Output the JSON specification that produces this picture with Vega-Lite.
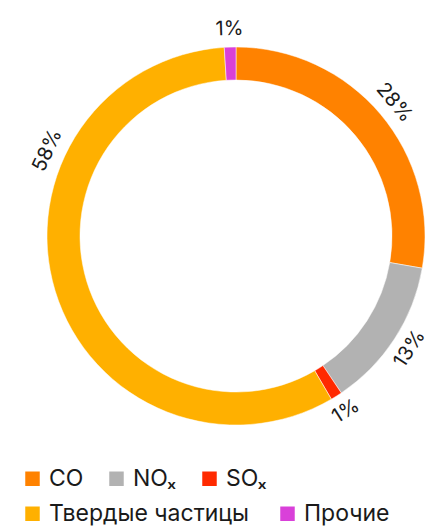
{
  "$schema": "https://vega.github.io/schema/vega-lite/v6.json",
  "width": 388,
  "height": 472,
  "autosize": {"type": "none"},
  "padding": {"left": 42, "top": 0, "right": 0, "bottom": 55},
  "background": "white",
  "config": {
    "view": {"stroke": null},
    "font": "Inter",
    "legend": {
      "title": null,
      "orient": "none",
      "direction": "horizontal",
      "symbolType": "square",
      "symbolSize": 210,
      "symbolStrokeWidth": 0,
      "labelFont": "Inter",
      "labelFontSize": 23,
      "labelColor": "#1a1a1a",
      "labelOffset": 5,
      "labelLimit": 300
    }
  },
  "data": {
    "values": [
      {"category": "CO", "value": 28, "label": "28%"},
      {"category": "NOₓ", "value": 13, "label": "13%"},
      {"category": "SOₓ", "value": 1, "label": "1%"},
      {"category": "Твердые частицы", "value": 58, "label": "58%"},
      {"category": "Прочие", "value": 1, "label": "1%"}
    ]
  },
  "transform": [
    {"window": [{"op": "sum", "field": "value", "as": "cum"}], "frame": [null, 0]},
    {"joinaggregate": [{"op": "sum", "field": "value", "as": "total"}]},
    {"calculate": "(datum.cum - datum.value) / datum.total * 360", "as": "startDeg"},
    {"calculate": "datum.cum / datum.total * 360", "as": "endDeg"},
    {"calculate": "datum.category === 'Твердые частицы' ? datum.startDeg + 0.7 * (datum.endDeg - datum.startDeg) : (datum.startDeg + datum.endDeg) / 2", "as": "labelDeg"},
    {"calculate": "datum.labelDeg < 90 ? datum.labelDeg : (datum.labelDeg < 270 ? datum.labelDeg - 180 : datum.labelDeg - 360)", "as": "rot"}
  ],
  "layer": [
    {
      "transform": [{"filter": {"field": "category", "oneOf": ["CO", "NOₓ", "SOₓ"]}}],
      "mark": {"type": "arc", "outerRadius": 189, "innerRadius": 156, "stroke": "white", "strokeWidth": 0.5},
      "encoding": {
        "theta": {"field": "startDeg", "type": "quantitative", "stack": null, "scale": {"domain": [0, 360], "range": [0, 6.283185307]}},
        "theta2": {"field": "endDeg"},
        "color": {
          "field": "category",
          "type": "nominal",
          "sort": null,
          "scale": {"domain": ["CO", "NOₓ", "SOₓ"], "range": ["#FF8200", "#B2B2B2", "#FF2A00"]},
          "legend": {"legendX": -21, "legendY": 467, "columnPadding": 21}
        }
      }
    },
    {
      "transform": [{"filter": {"field": "category", "oneOf": ["Твердые частицы", "Прочие"]}}],
      "mark": {"type": "arc", "outerRadius": 189, "innerRadius": 156, "stroke": "white", "strokeWidth": 0.5},
      "encoding": {
        "theta": {"field": "startDeg", "type": "quantitative", "stack": null, "scale": {"domain": [0, 360], "range": [0, 6.283185307]}},
        "theta2": {"field": "endDeg"},
        "fill": {
          "field": "category",
          "type": "nominal",
          "sort": null,
          "scale": {"domain": ["Твердые частицы", "Прочие"], "range": ["#FFB000", "#D940D9"]},
          "legend": {"legendX": -21, "legendY": 502, "columnPadding": 27}
        }
      }
    },
    {
      "mark": {"type": "text", "radius": 207, "fontSize": 20, "font": "Inter", "color": "#1a1a1a", "align": "center", "baseline": "middle"},
      "encoding": {
        "theta": {"field": "labelDeg", "type": "quantitative", "stack": null, "scale": {"domain": [0, 360], "range": [0, 6.283185307]}},
        "angle": {"field": "rot", "type": "quantitative", "scale": null},
        "text": {"field": "label", "type": "nominal"}
      }
    }
  ],
  "resolve": {"scale": {"color": "independent", "fill": "independent"}, "legend": {"color": "independent", "fill": "independent"}}
}
